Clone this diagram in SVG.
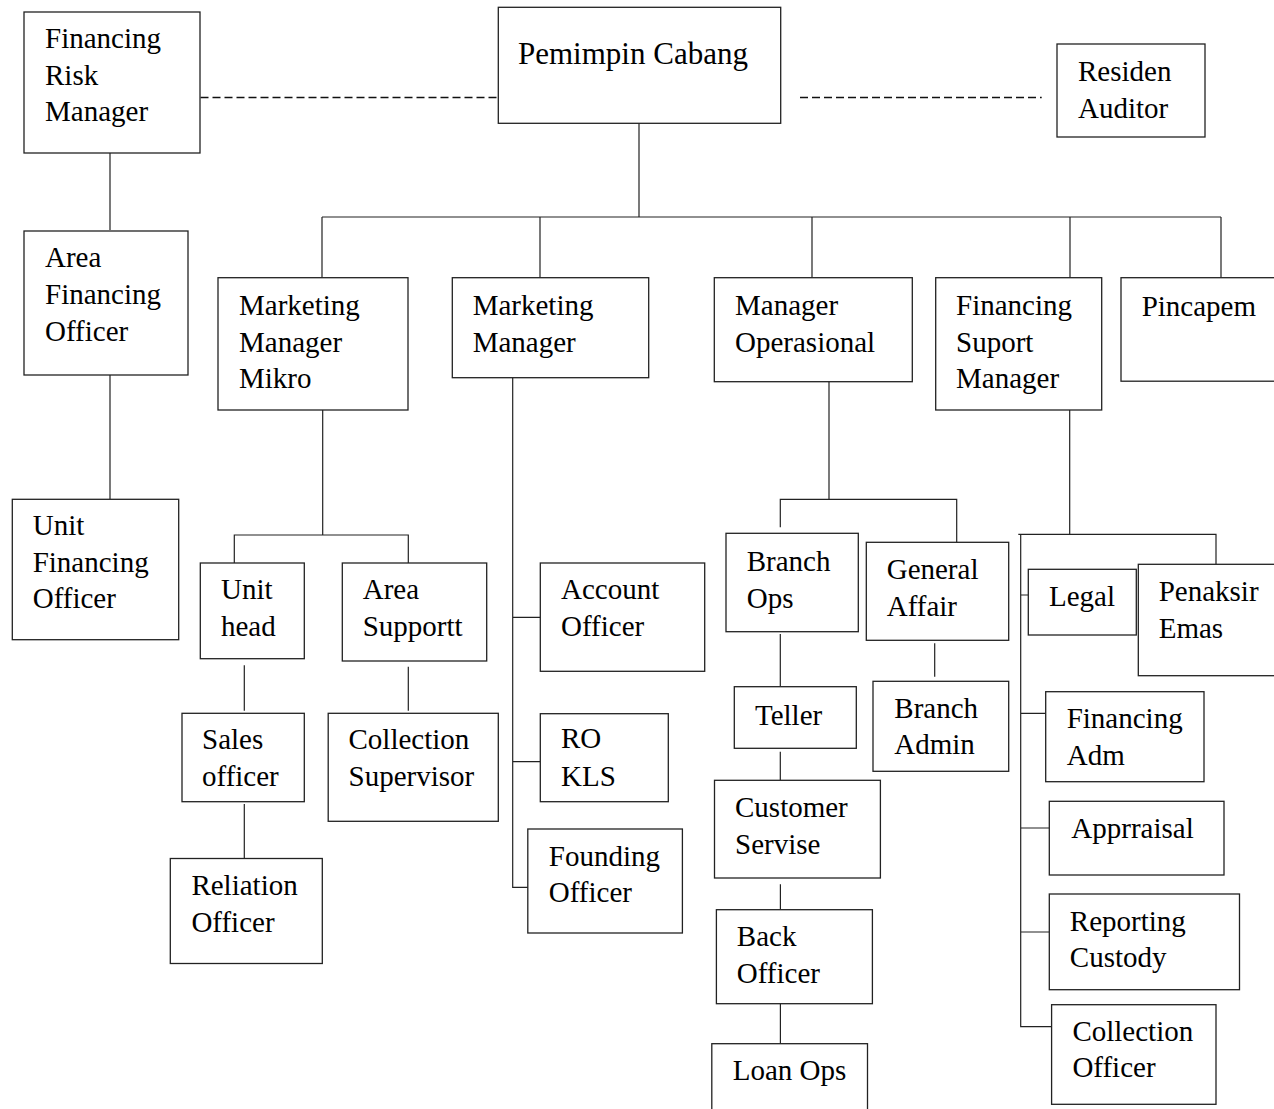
<svg xmlns="http://www.w3.org/2000/svg" width="1274" height="1109" viewBox="0 0 1274 1109">
<style>
rect{fill:#fff;stroke:#222;stroke-width:1.3}
text{font-family:"Liberation Serif","Times New Roman",serif;font-size:29px;fill:#000}
.c{fill:none;stroke:#222;stroke-width:1.2}
.d{fill:none;stroke:#111;stroke-width:1.4;stroke-dasharray:8 4}
</style>
<rect x="0" y="0" width="1274" height="1109" style="fill:#fff;stroke:none"/>
<g id="connectors">
<path class="d" d="M200.5 97.5H497M800 97.5H1041.7"/>
<path class="c" d="M110 153V230M110 375V499"/>
<path class="c" d="M639 123V217M322 217H1221M322 217V277.7M540 217V277.7M812 217V277.7M1070 217V277.7M1221 217V277.7"/>
<path class="c" d="M322.7 410V535M234.3 563V535H408.3V563"/>
<path class="c" d="M244.3 665.3V710.7M408.3 666.7V710.7M244.3 804V858"/>
<path class="c" d="M512.7 377.7V887.3H528M512.7 617.3H540M512.7 761.7H540"/>
<path class="c" d="M829 381.7V499.3M780.3 527.3V499.3H956.7V542.3"/>
<path class="c" d="M780.3 634V686M934.7 643.3V676.7M780.3 751.7V780M780.4 884.3V909.7M780.4 1003.7V1046"/>
<path class="c" d="M1069.7 410V534.3M1018.3 534.3H1216V564.3M1020.7 534.3V1026.7H1051M1020.7 595H1028.3M1020.7 713.3H1045.7M1020.7 828H1049.3M1020.7 932H1049.3"/>
</g>
<g id="frm"><rect x="24" y="12" width="176" height="141"/><text x="45" y="48">Financing</text><text x="45" y="85">Risk</text><text x="45" y="121">Manager</text></g>
<g id="pc"><rect x="498.3" y="7.3" width="282.4" height="116"/><text x="518" y="64" style="font-size:31px">Pemimpin Cabang</text></g>
<g id="ra"><rect x="1057" y="44" width="148" height="93"/><text x="1078" y="81">Residen</text><text x="1078" y="117.5">Auditor</text></g>
<g id="afo"><rect x="24" y="231" width="164" height="144"/><text x="45" y="267">Area</text><text x="45" y="304">Financing</text><text x="45" y="341">Officer</text></g>
<g id="mmm"><rect x="218" y="277.7" width="190" height="132.3"/><text x="239" y="315">Marketing</text><text x="239" y="352">Manager</text><text x="239" y="388">Mikro</text></g>
<g id="mm"><rect x="452.3" y="277.7" width="196.4" height="100"/><text x="472.7" y="315">Marketing</text><text x="472.7" y="352">Manager</text></g>
<g id="mo"><rect x="714.3" y="277.7" width="198" height="104"/><text x="735" y="315">Manager</text><text x="735" y="352">Operasional</text></g>
<g id="fsm"><rect x="935.7" y="277.7" width="166" height="132.3"/><text x="956" y="315">Financing</text><text x="956" y="352">Suport</text><text x="956" y="388">Manager</text></g>
<g id="pincapem"><rect x="1121" y="277.7" width="170" height="103.5"/><text x="1141.7" y="316">Pincapem</text></g>
<g id="ufo"><rect x="12.3" y="499.3" width="166.4" height="140.4"/><text x="32.7" y="535">Unit</text><text x="32.7" y="572">Financing</text><text x="32.7" y="608">Officer</text></g>
<g id="uh"><rect x="200.3" y="563" width="104" height="95.7"/><text x="221" y="599.3">Unit</text><text x="221" y="636">head</text></g>
<g id="as"><rect x="342.3" y="563" width="144.4" height="98"/><text x="362.7" y="599.3">Area</text><text x="362.7" y="636">Supportt</text></g>
<g id="so"><rect x="182" y="713.3" width="122.3" height="88.4"/><text x="202" y="749.3">Sales</text><text x="202" y="786">officer</text></g>
<g id="cs"><rect x="328.2" y="713.3" width="170.1" height="108"/><text x="348.5" y="749.3">Collection</text><text x="348.5" y="786">Supervisor</text></g>
<g id="rel"><rect x="170.3" y="858.5" width="152" height="105"/><text x="191.4" y="895">Reliation</text><text x="191.4" y="931.7">Officer</text></g>
<g id="ao"><rect x="540.3" y="563" width="164.4" height="108.3"/><text x="561" y="599">Account</text><text x="561" y="636">Officer</text></g>
<g id="rokls"><rect x="540.3" y="713.7" width="128" height="88"/><text x="561" y="748.3">RO</text><text x="561" y="786">KLS</text></g>
<g id="fo"><rect x="527.8" y="829" width="154.6" height="104"/><text x="548.8" y="865.7">Founding</text><text x="548.8" y="902.3">Officer</text></g>
<g id="bo"><rect x="726" y="533.3" width="132.3" height="98.4"/><text x="746.7" y="570.7">Branch</text><text x="746.7" y="607.7">Ops</text></g>
<g id="ga"><rect x="866.3" y="542.3" width="142.4" height="98"/><text x="886.7" y="579">General</text><text x="886.7" y="615.7">Affair</text></g>
<g id="teller"><rect x="734.3" y="686.7" width="122" height="61.6"/><text x="755" y="725">Teller</text></g>
<g id="ba"><rect x="873" y="681.3" width="135.7" height="90"/><text x="894.3" y="718">Branch</text><text x="894.3" y="754.3">Admin</text></g>
<g id="csv"><rect x="714.5" y="780.3" width="165.9" height="97.7"/><text x="735" y="816.7">Customer</text><text x="735" y="854.3">Servise</text></g>
<g id="back"><rect x="716.4" y="909.7" width="156" height="94"/><text x="736.8" y="945.7">Back</text><text x="736.8" y="982.7">Officer</text></g>
<g id="loan"><rect x="711.8" y="1043.7" width="155.7" height="80"/><text x="732.7" y="1080">Loan Ops</text></g>
<g id="legal"><rect x="1028.3" y="569.3" width="108" height="65.7"/><text x="1049" y="606">Legal</text></g>
<g id="pe"><rect x="1138.3" y="564.3" width="152" height="111.4"/><text x="1158.7" y="600.7">Penaksir</text><text x="1158.7" y="637.7">Emas</text></g>
<g id="fadm"><rect x="1045.7" y="691.7" width="158.3" height="90"/><text x="1066.7" y="728.3">Financing</text><text x="1066.7" y="765">Adm</text></g>
<g id="app"><rect x="1049.3" y="801.3" width="174.7" height="73.7"/><text x="1071.3" y="838.3">Apprraisal</text></g>
<g id="rc"><rect x="1049.3" y="894" width="190.2" height="95.7"/><text x="1069.8" y="930.7">Reporting</text><text x="1069.8" y="966.7">Custody</text></g>
<g id="co"><rect x="1051.6" y="1004.7" width="164.4" height="99.6"/><text x="1072.4" y="1041">Collection</text><text x="1072.4" y="1077.3">Officer</text></g>
</svg>
